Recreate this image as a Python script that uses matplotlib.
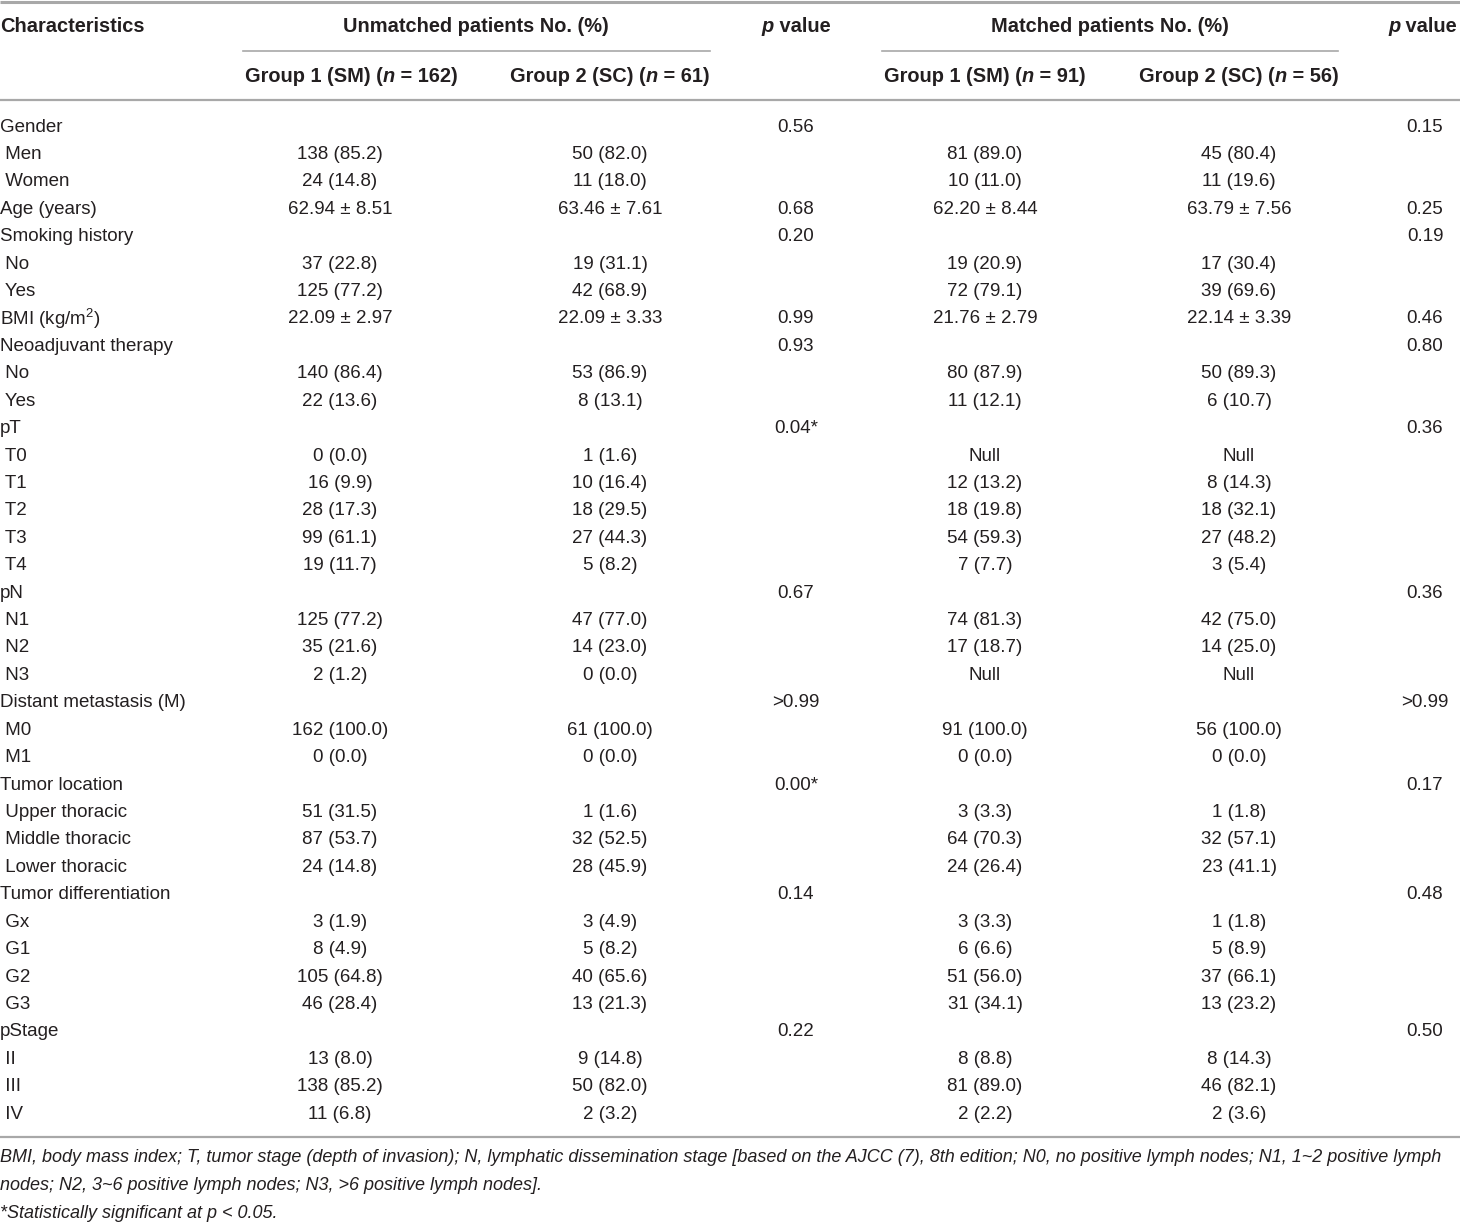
import matplotlib
matplotlib.use("Agg")
import matplotlib.pyplot as plt
from matplotlib import font_manager

# pick a narrow face if there is one
names = set(f.name for f in font_manager.fontManager.ttflist)
FONT = "Liberation Sans Narrow" if "Liberation Sans Narrow" in names else "Liberation Sans"
plt.rcParams['font.family'] = [FONT, 'DejaVu Sans']
plt.rcParams['mathtext.fontset'] = 'custom'
plt.rcParams['mathtext.rm'] = FONT
plt.rcParams['mathtext.it'] = FONT + ':italic'
plt.rcParams['mathtext.bf'] = FONT + ':bold'

# table data
labels = ["Gender", " Men", " Women", "Age (years)", "Smoking history", " No", " Yes",
          "BMI (kg/m$\\mathregular{^2}$)", "Neoadjuvant therapy", " No", " Yes", "pT", " T0", " T1", " T2",
          " T3", " T4", "pN", " N1", " N2", " N3", "Distant metastasis (M)", " M0", " M1",
          "Tumor location", " Upper thoracic", " Middle thoracic", " Lower thoracic",
          "Tumor differentiation", " Gx", " G1", " G2", " G3", "pStage", " II", " III", " IV"]

unm_g1 = ["", "138 (85.2)", "24 (14.8)", "62.94 ± 8.51", "", "37 (22.8)", "125 (77.2)",
          "22.09 ± 2.97", "", "140 (86.4)", "22 (13.6)", "", "0 (0.0)", "16 (9.9)", "28 (17.3)",
          "99 (61.1)", "19 (11.7)", "", "125 (77.2)", "35 (21.6)", "2 (1.2)", "", "162 (100.0)",
          "0 (0.0)", "", "51 (31.5)", "87 (53.7)", "24 (14.8)", "", "3 (1.9)", "8 (4.9)",
          "105 (64.8)", "46 (28.4)", "", "13 (8.0)", "138 (85.2)", "11 (6.8)"]

unm_g2 = ["", "50 (82.0)", "11 (18.0)", "63.46 ± 7.61", "", "19 (31.1)", "42 (68.9)",
          "22.09 ± 3.33", "", "53 (86.9)", "8 (13.1)", "", "1 (1.6)", "10 (16.4)", "18 (29.5)",
          "27 (44.3)", "5 (8.2)", "", "47 (77.0)", "14 (23.0)", "0 (0.0)", "", "61 (100.0)",
          "0 (0.0)", "", "1 (1.6)", "32 (52.5)", "28 (45.9)", "", "3 (4.9)", "5 (8.2)",
          "40 (65.6)", "13 (21.3)", "", "9 (14.8)", "50 (82.0)", "2 (3.2)"]

unm_p = ["0.56", "", "", "0.68", "0.20", "", "", "0.99", "0.93", "", "", "0.04*", "", "", "",
         "", "", "0.67", "", "", "", ">0.99", "", "", "0.00*", "", "", "", "0.14", "", "", "",
         "", "0.22", "", "", ""]

mat_g1 = ["", "81 (89.0)", "10 (11.0)", "62.20 ± 8.44", "", "19 (20.9)", "72 (79.1)",
          "21.76 ± 2.79", "", "80 (87.9)", "11 (12.1)", "", "Null", "12 (13.2)", "18 (19.8)",
          "54 (59.3)", "7 (7.7)", "", "74 (81.3)", "17 (18.7)", "Null", "", "91 (100.0)",
          "0 (0.0)", "", "3 (3.3)", "64 (70.3)", "24 (26.4)", "", "3 (3.3)", "6 (6.6)",
          "51 (56.0)", "31 (34.1)", "", "8 (8.8)", "81 (89.0)", "2 (2.2)"]

mat_g2 = ["", "45 (80.4)", "11 (19.6)", "63.79 ± 7.56", "", "17 (30.4)", "39 (69.6)",
          "22.14 ± 3.39", "", "50 (89.3)", "6 (10.7)", "", "Null", "8 (14.3)", "18 (32.1)",
          "27 (48.2)", "3 (5.4)", "", "42 (75.0)", "14 (25.0)", "Null", "", "56 (100.0)",
          "0 (0.0)", "", "1 (1.8)", "32 (57.1)", "23 (41.1)", "", "1 (1.8)", "5 (8.9)",
          "37 (66.1)", "13 (23.2)", "", "8 (14.3)", "46 (82.1)", "2 (3.6)"]

mat_p = ["0.15", "", "", "0.25", "0.19", "", "", "0.46", "0.80", "", "", "0.36", "", "", "",
         "", "", "0.36", "", "", "", ">0.99", "", "", "0.17", "", "", "", "0.48", "", "", "",
         "", "0.50", "", "", ""]

footnotes = [
    "BMI, body mass index; T, tumor stage (depth of invasion); N, lymphatic dissemination stage [based on the AJCC (7), 8th edition; N0, no positive lymph nodes; N1, 1~2 positive lymph",
    "nodes; N2, 3~6 positive lymph nodes; N3, >6 positive lymph nodes].",
    "*Statistically significant at p < 0.05.",
]

W, H = 1460, 1222
fig = plt.figure(figsize=(W / 100, H / 100), dpi=100)
ax = fig.add_axes([0, 0, 1, 1])
ax.set_xlim(0, W)
ax.set_ylim(H, 0)
ax.axis('off')

TXT = '#231f20'
LINE = '#a8a8a8'
FS = 13.5      # body
HFS = 14.4     # bold header

renderer = fig.canvas.get_renderer()


def runs(x, y, parts, ha='center', weight='normal', fs=HFS):
    # draw text pieces side by side, (string, italic?) each
    objs = []
    for s, it in parts:
        t = ax.text(0, y, s, fontsize=fs, color=TXT, va='center', ha='left',
                    weight=weight, style='italic' if it else 'normal')
        objs.append(t)
    widths = [t.get_window_extent(renderer).width for t in objs]
    total = sum(widths)
    x0 = x - total / 2 if ha == 'center' else (x - total if ha == 'right' else x)
    for t, w in zip(objs, widths):
        t.set_x(x0)
        x0 += w


# rules
ax.plot([0, W], [1.5, 1.5], color=LINE, lw=2.2, solid_capstyle='butt')
ax.plot([243, 710], [51, 51], color=LINE, lw=1.2)
ax.plot([882, 1338], [51, 51], color=LINE, lw=1.2)
ax.plot([0, W], [100, 100], color=LINE, lw=1.6)
ax.plot([0, W], [1137, 1137], color=LINE, lw=1.6)

# header
hy1, hy2 = 26, 76
runs(0, hy1, [("Characteristics", False)], ha='left', weight='bold')
runs(796, hy1, [("p", True), (" value", False)], weight='bold')
runs(476, hy1, [("Unmatched patients No. (%)", False)], weight='bold')
runs(1110, hy1, [("Matched patients No. (%)", False)], weight='bold')
runs(1457, hy1, [("p", True), (" value", False)], ha='right', weight='bold')
runs(351, hy2, [("Group 1 (SM) (", False), ("n", True), (" = 162)", False)], weight='bold')
runs(610, hy2, [("Group 2 (SC) (", False), ("n", True), (" = 61)", False)], weight='bold')
runs(985, hy2, [("Group 1 (SM) (", False), ("n", True), (" = 91)", False)], weight='bold')
runs(1239, hy2, [("Group 2 (SC) (", False), ("n", True), (" = 56)", False)], weight='bold')

# body
y0, dy = 127, 27.42
cols = [(340, unm_g1), (610, unm_g2), (796, unm_p), (985, mat_g1), (1239, mat_g2), (1425, mat_p)]
for i, lab in enumerate(labels):
    y = y0 + i * dy
    ax.text(0, y, lab, fontsize=FS, color=TXT, va='center', ha='left')
    for x, col in cols:
        if col[i]:
            ax.text(x, y, col[i], fontsize=FS, color=TXT, va='center', ha='center')

# footnotes
for k, line in enumerate(footnotes):
    ax.text(0, 1158 + k * 27.5, line, fontsize=12.95, color=TXT, va='center', ha='left',
            style='italic')

fig.savefig('out.png', dpi=100)
